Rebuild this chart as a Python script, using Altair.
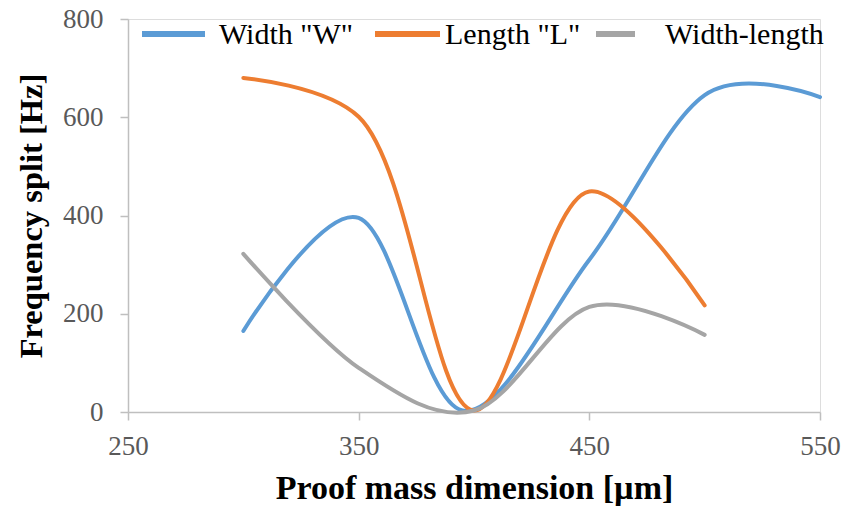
import altair as alt
import pandas as pd

# Data
x_w = [300, 350, 395, 450, 500, 550]
y_w = [165, 395, 3, 310, 645, 641]
x_l = [300, 350, 400, 450, 500]
y_l = [680, 601, 3, 449, 217]
x_wl = [300, 350, 400, 450, 500]
y_wl = [322, 90, 3, 214, 157]

series = ['Width "W"', 'Length "L"', 'Width-length']
colors = ["#5b9bd5", "#ed7d31", "#a5a5a5"]
x_ticks = [250, 350, 450, 550]
y_ticks = [0, 200, 400, 600, 800]

rows = []
for name, xs, ys in zip(series, [x_w, x_l, x_wl], [y_w, y_l, y_wl]):
    for xv, yv in zip(xs, ys):
        rows.append({"series": name, "x": xv, "y": yv})
df = pd.DataFrame(rows)
legend_df = pd.DataFrame({"series": series})

FONT = "Liberation Serif"

x_enc = alt.X("x:Q", scale=alt.Scale(domain=[250, 550], nice=False, zero=False),
              axis=alt.Axis(values=x_ticks, title="Proof mass dimension [µm]",
                            titleFontSize=34, titleFontWeight="bold", titleFont=FONT,
                            titleColor="black", titlePadding=12,
                            labelFontSize=27, labelFont=FONT, labelColor="#595959",
                            labelPadding=13, tickSize=8, grid=False, labelFlush=False,
                            domainColor="#bfbfbf", tickColor="#bfbfbf",
                            domainWidth=1.5, tickWidth=1.5))
y_enc = alt.Y("y:Q", scale=alt.Scale(domain=[0, 800], nice=False),
              axis=alt.Axis(values=y_ticks, title="Frequency split [Hz]",
                            titleFontSize=32.5, titleFontWeight="bold", titleFont=FONT,
                            titleColor="black", titlePadding=14,
                            labelFontSize=27, labelFont=FONT, labelColor="#595959",
                            labelPadding=17, tickSize=8, grid=False, labelFlush=False,
                            domainColor="#bfbfbf", tickColor="#bfbfbf",
                            domainWidth=1.5, tickWidth=1.5))
color_enc = alt.Color("series:N", scale=alt.Scale(domain=series, range=colors),
                      legend=None)

interps = ["cardinal", "catmull-rom", "cardinal"]
layers = []
for s, ip in zip(series, interps):
    layers.append(
        alt.Chart(df).transform_filter(alt.datum.series == s)
        .mark_line(interpolate=ip, strokeWidth=4, strokeCap="round")
        .encode(x=x_enc, y=y_enc, color=color_enc)
    )

# manual legend (pixel positions inside the plot area)
sym = [(14, 77), (247, 312), (468, 507)]
lab = [91, 317, 537]
for s, c, (a, b), lx in zip(series, colors, sym, lab):
    base = alt.Chart(legend_df).transform_filter(alt.datum.series == s)
    layers.append(base.mark_rule(color=c, strokeWidth=6).encode(
        x=alt.value(a), x2=alt.value(b), y=alt.value(15)))
    layers.append(base.mark_text(align="left", baseline="alphabetic", font=FONT,
                                 fontSize=30, color="black").encode(
        x=alt.value(lx), y=alt.value(25), text="series:N"))

chart = alt.layer(*layers).properties(
    width=692, height=393,
    padding={"left": 128, "top": 19, "right": 25, "bottom": 100},
    autosize=alt.AutoSizeParams(type="none"),
).configure_view(stroke=None).configure(background="white")

chart.save("out.html", embed_options={"renderer": "svg", "actions": False})
